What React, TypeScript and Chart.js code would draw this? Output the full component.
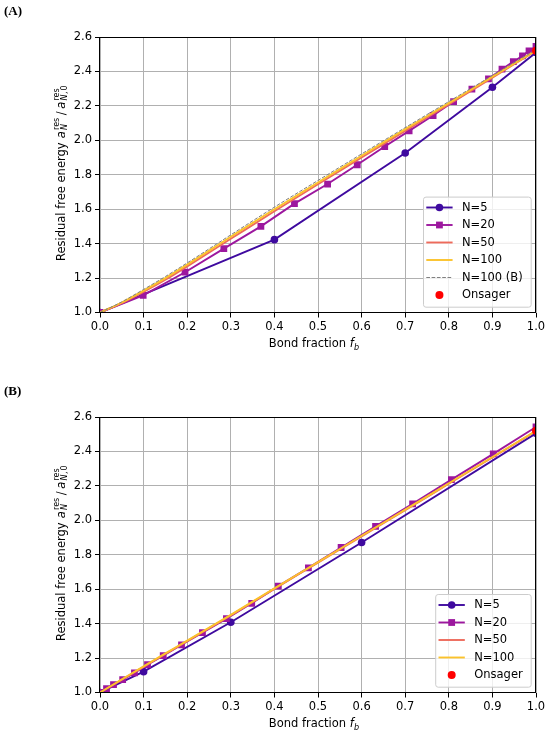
import React, { useEffect, useRef } from "react";
import { Chart, registerables } from "chart.js";
Chart.register(...registerables);

const FONT = '"DejaVu Sans", sans-serif';
const FS = 11.5;

// axis ranges / ticks
const X_MIN = 0.0, X_MAX = 1.0, X_STEP = 0.1;
const Y_MIN = 1.0, Y_MAX = 2.6, Y_STEP = 0.2;

// ---------- Panel A ----------
const fbA_N5 = [0, 0.4, 0.7, 0.9, 1.0];
const valA_N5 = [1.0, 1.423, 1.926, 2.308, 2.51];
const fbA_N20 = [0, 0.099, 0.195, 0.284, 0.369, 0.446, 0.522, 0.59, 0.653, 0.709, 0.764, 0.811, 0.853, 0.891, 0.922, 0.948, 0.969, 0.984, 1.0];
const valA_N20 = [1.0, 1.10, 1.234, 1.371, 1.50, 1.632, 1.746, 1.858, 1.964, 2.055, 2.144, 2.225, 2.297, 2.357, 2.413, 2.457, 2.49, 2.52, 2.545];
const fbSmooth = [0, 0.05, 0.1, 0.15, 0.2, 0.3, 0.4, 0.5, 0.6, 0.7, 0.8, 0.9, 1.0];
const valA_N50 = [1.0, 1.055, 1.12, 1.19, 1.268, 1.428, 1.588, 1.745, 1.9, 2.055, 2.208, 2.364, 2.52];
const valA_N100 = [1.0, 1.058, 1.127, 1.2, 1.278, 1.44, 1.6, 1.755, 1.91, 2.065, 2.216, 2.37, 2.522];
const valA_N100B = [1.0, 1.062, 1.134, 1.209, 1.288, 1.451, 1.612, 1.767, 1.921, 2.074, 2.225, 2.376, 2.526];

// ---------- Panel B ----------
const fbB_N5 = [0, 0.1, 0.3, 0.6, 1.0];
const valB_N5 = [1.0, 1.121, 1.408, 1.871, 2.505];
const fbB_N20 = [0, 0.015, 0.031, 0.052, 0.079, 0.109, 0.145, 0.187, 0.235, 0.29, 0.348, 0.409, 0.478, 0.553, 0.632, 0.717, 0.806, 0.902, 1.0];
const valB_N20 = [1.0, 1.023, 1.046, 1.075, 1.114, 1.162, 1.214, 1.277, 1.348, 1.429, 1.518, 1.618, 1.724, 1.842, 1.965, 2.096, 2.236, 2.386, 2.542];
const valB_N50 = [1.0, 1.074, 1.149, 1.224, 1.298, 1.448, 1.602, 1.754, 1.907, 2.059, 2.212, 2.365, 2.518];
const valB_N100 = [1.0, 1.076, 1.152, 1.227, 1.301, 1.451, 1.605, 1.757, 1.91, 2.062, 2.215, 2.368, 2.52];

// Onsager limit
const onsagerFb = [1.0];
const onsagerVal = [2.52];

const C_N5 = "#3f0a9f";
const C_N20 = "#9c179e";
const C_N50 = "#ee6a5b";
const C_N100 = "#fbc22b";
const C_N100B = "#808080";
const C_ONS = "#ff0000";

const LW = 1.9;
const R_CIRC = 3.8;
const R_RECT = 4.8;

const xy = (xs: number[], ys: number[]) => xs.map((x, i) => ({ x, y: ys[i] }));

type LegendItem = { label: string; color: string; line: boolean; dash?: number[]; width?: number; marker?: "circle" | "rect"; r?: number };

function markerDS(label: string, xs: number[], ys: number[], color: string, style: string, r: number, order: number) {
  return {
    label, data: xy(xs, ys), borderColor: color, backgroundColor: color, borderWidth: LW,
    pointRadius: r, pointStyle: style, pointBorderWidth: 0, tension: 0, clip: 0, order,
  };
}
function lineDS(label: string, xs: number[], ys: number[], color: string, width: number, order: number, dash?: number[]) {
  return {
    label, data: xy(xs, ys), borderColor: color, backgroundColor: color, borderWidth: width,
    borderDash: dash || [], pointRadius: 0, cubicInterpolationMode: "monotone", clip: 0, order,
  };
}

function drawRichRow(ctx: CanvasRenderingContext2D, fs: number, segs: any[], measureOnly: boolean) {
  let x = 0;
  const sfs = fs * 0.7;
  for (const s of segs) {
    if (s.t !== undefined) {
      ctx.font = `${s.it ? "italic " : ""}${fs}px ${FONT}`;
      if (!measureOnly) ctx.fillText(s.t, x, 0);
      x += ctx.measureText(s.t).width + (s.gap || 0);
    } else {
      const x0 = x + (s.pre || 0.6);
      let wSup = 0, wSub = 0;
      if (s.sup) {
        ctx.font = `${sfs}px ${FONT}`;
        if (!measureOnly) ctx.fillText(s.sup, x0, -fs * 0.45);
        wSup = ctx.measureText(s.sup).width;
      }
      if (s.sub) {
        let xs = x0;
        for (const p of s.sub) {
          ctx.font = `${p.it ? "italic " : ""}${sfs}px ${FONT}`;
          if (!measureOnly) ctx.fillText(p.t, xs, fs * 0.25);
          xs += ctx.measureText(p.t).width + (p.gap || 0);
        }
        wSub = xs - x0;
      }
      x = x0 + Math.max(wSup, wSub) + (s.gap || 0);
    }
  }
  return x;
}

function drawRich(ctx: CanvasRenderingContext2D, fs: number, segs: any[], cx: number, cy: number, rotate: boolean) {
  ctx.save();
  ctx.fillStyle = "#000";
  ctx.textBaseline = "alphabetic";
  ctx.textAlign = "left";
  const w = drawRichRow(ctx, fs, segs, true);
  ctx.translate(cx, cy);
  if (rotate) ctx.rotate(-Math.PI / 2);
  ctx.translate(-w / 2, 0);
  drawRichRow(ctx, fs, segs, false);
  ctx.restore();
}

const Y_TITLE = [
  { t: "Residual free energy ", gap: 0.5 },
  { t: "a", it: true },
  { sup: "res", sub: [{ t: "N", it: true }], pre: 1.2, gap: 2.5 },
  { t: "/", gap: 2.5 },
  { t: "a", it: true },
  { sup: "res", sub: [{ t: "N", it: true, gap: 0.6 }, { t: ",", gap: 0.8 }, { t: "0" }], pre: 1.2 },
];
const X_TITLE = [{ t: "Bond fraction " }, { t: "f", it: true }, { sub: [{ t: "b", it: true }], pre: 0.3 }];

function makePlugin(label: string, legend: LegendItem[]) {
  return {
    id: "decor" + label,
    afterDatasetsDraw(chart: any) {
      const { ctx, chartArea: ca } = chart;
      ctx.save();
      ctx.strokeStyle = "#000";
      ctx.lineWidth = 1;
      const l = Math.round(ca.left) - 0.5, t = Math.round(ca.top) + 0.5;
      const r = Math.round(ca.right) - 0.5, b = Math.round(ca.bottom) - 0.5;
      ctx.strokeRect(l, t, r - l, b - t);
      ctx.restore();
    },
    afterDraw(chart: any) {
      const { ctx, chartArea: ca } = chart;
      // legend
      ctx.save();
      const fs = FS;
      ctx.font = `${fs}px ${FONT}`;
      const maxW = Math.max(...legend.map((i) => ctx.measureText(i.label).width));
      const w = 3.3 + 26.3 + 9.4 + maxW + 8;
      const n = legend.length;
      const h = n * 17.4 + 5.7;
      const right = ca.right - 5.3, bottom = ca.bottom - 5.8;
      const left = right - w, top = bottom - h;
      ctx.beginPath();
      ctx.roundRect(left + 0.5, top + 0.5, w, h, 2.5);
      ctx.fillStyle = "rgba(255,255,255,0.8)";
      ctx.fill();
      ctx.strokeStyle = "#cccccc";
      ctx.lineWidth = 1;
      ctx.stroke();
      legend.forEach((it, k) => {
        const cy = bottom - 11.7 - (n - 1 - k) * 17.5;
        const x0 = left + 3.3, x1 = x0 + 26.3;
        if (it.line) {
          ctx.beginPath();
          ctx.setLineDash(it.dash || []);
          ctx.strokeStyle = it.color;
          ctx.lineWidth = it.width || LW;
          ctx.moveTo(x0, cy);
          ctx.lineTo(x1, cy);
          ctx.stroke();
          ctx.setLineDash([]);
        }
        if (it.marker) {
          ctx.fillStyle = it.color;
          const mx = (x0 + x1) / 2;
          const rr = it.r || R_CIRC;
          if (it.marker === "circle") {
            ctx.beginPath();
            ctx.arc(mx, cy, rr, 0, Math.PI * 2);
            ctx.fill();
          } else {
            const s = rr * Math.SQRT1_2;
            ctx.fillRect(mx - s, cy - s, 2 * s, 2 * s);
          }
        }
        ctx.fillStyle = "#000";
        ctx.textBaseline = "middle";
        ctx.textAlign = "left";
        ctx.font = `${fs}px ${FONT}`;
        ctx.fillText(it.label, x1 + 9.4, cy + 0.5);
      });
      ctx.restore();
      // titles
      drawRich(ctx, FS, Y_TITLE, 64.5, (ca.top + ca.bottom) / 2 - 1.5, true);
      drawRich(ctx, FS, X_TITLE, (ca.left + ca.right) / 2 - 4, ca.bottom + 34.5, false);
      // panel label
      ctx.save();
      ctx.fillStyle = "#000";
      ctx.font = 'bold 13px "Liberation Serif", serif';
      ctx.textBaseline = "alphabetic";
      ctx.textAlign = "left";
      ctx.fillText(`(${label})`, 4, 15);
      ctx.restore();
    },
  };
}

function Panel({ top, height, label, datasets, legend }: { top: number; height: number; label: string; datasets: any[]; legend: LegendItem[] }) {
  const ref = useRef<HTMLCanvasElement>(null);
  useEffect(() => {
    const tickFont = { family: FONT, size: FS };
    const chart = new Chart(ref.current as HTMLCanvasElement, {
      type: "line",
      data: { datasets },
      options: {
        animation: false,
        responsive: true,
        maintainAspectRatio: false,
        events: [],
        layout: { padding: { left: 0, right: 14, top: 37, bottom: height - 312.5 - 40 } },
        plugins: { legend: { display: false }, tooltip: { enabled: false }, title: { display: false } },
        scales: {
          x: {
            type: "linear", min: X_MIN, max: X_MAX,
            ticks: { stepSize: X_STEP, callback: (v: any) => Number(v).toFixed(1), color: "#000", font: tickFont, padding: 3, maxRotation: 0 },
            grid: { color: "#b0b0b0", lineWidth: 1, tickColor: "#000", tickLength: 5, drawTicks: true },
            border: { display: false },
            afterFit: (s: any) => { s.height = 40; },
          },
          y: {
            type: "linear", min: Y_MIN, max: Y_MAX,
            ticks: { stepSize: Y_STEP, callback: (v: any) => Number(v).toFixed(1), color: "#000", font: tickFont, padding: 3 },
            grid: { color: "#b0b0b0", lineWidth: 1, tickColor: "#000", tickLength: 5, drawTicks: true },
            border: { display: false },
            afterFit: (s: any) => { s.width = 100; },
          },
        },
      } as any,
      plugins: [makePlugin(label, legend)],
    });
    return () => chart.destroy();
  }, []);
  return (
    <div style={{ position: "absolute", left: 0, top, width: 550, height }}>
      <canvas ref={ref} />
    </div>
  );
}

const legendA: LegendItem[] = [
  { label: "N=5", color: C_N5, line: true, width: LW, marker: "circle", r: R_CIRC },
  { label: "N=20", color: C_N20, line: true, width: LW, marker: "rect", r: R_RECT },
  { label: "N=50", color: C_N50, line: true, width: LW },
  { label: "N=100", color: C_N100, line: true, width: LW },
  { label: "N=100 (B)", color: C_N100B, line: true, width: 1, dash: [3.7, 1.6] },
  { label: "Onsager", color: C_ONS, line: false, marker: "circle", r: 4 },
];
const legendB: LegendItem[] = [legendA[0], legendA[1], legendA[2], legendA[3], legendA[5]];

const datasetsA = [
  markerDS("N=5", fbA_N5, valA_N5, C_N5, "circle", R_CIRC, 6),
  markerDS("N=20", fbA_N20, valA_N20, C_N20, "rect", R_RECT, 5),
  lineDS("N=50", fbSmooth, valA_N50, C_N50, LW, 4),
  lineDS("N=100", fbSmooth, valA_N100, C_N100, LW, 3),
  lineDS("N=100 (B)", fbSmooth, valA_N100B, C_N100B, 1.0, 2, [3.7, 1.6]),
  { ...markerDS("Onsager", onsagerFb, onsagerVal, C_ONS, "circle", 4, 1), showLine: false },
];
const datasetsB = [
  markerDS("N=5", fbB_N5, valB_N5, C_N5, "circle", R_CIRC, 6),
  markerDS("N=20", fbB_N20, valB_N20, C_N20, "rect", R_RECT, 5),
  lineDS("N=50", fbSmooth, valB_N50, C_N50, LW, 4),
  lineDS("N=100", fbSmooth, valB_N100, C_N100, LW, 3),
  { ...markerDS("Onsager", onsagerFb, onsagerVal, C_ONS, "circle", 4, 1), showLine: false },
];

export default function App() {
  return (
    <div style={{ position: "absolute", left: 0, top: 0, width: 550, height: 734, background: "#fff" }}>
      <Panel top={0} height={380} label="A" datasets={datasetsA} legend={legendA} />
      <Panel top={380} height={354} label="B" datasets={datasetsB} legend={legendB} />
    </div>
  );
}
